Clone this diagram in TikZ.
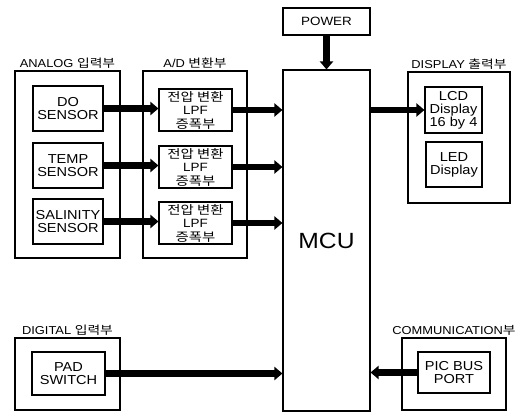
\documentclass[tikz,border=0pt]{standalone}
\usepackage{fontspec}
\setmainfont[FakeStretch=1.12]{Liberation Sans}
\newfontfamily\kr[FakeStretch=1.2]{Noto Sans CJK KR}
\usetikzlibrary{arrows.meta, positioning}

\begin{document}
\begin{tikzpicture}[x=1pt, y=-1pt,
    grp/.style={draw, line width=1.1pt, inner sep=0pt},
    blk/.style={draw, line width=1.1pt, align=center, inner sep=0pt,
                font=\fontsize{13}{13}\selectfont},
    ttl/.style={font=\fontsize{11.5}{12}\selectfont, inner sep=1pt},
    bus/.style={line width=6.5pt, -{Triangle[length=8pt, width=13pt]}}]
    \useasboundingbox[fill=white] (0,0) rectangle (528,414);

    \node[grp, minimum width=105pt, minimum height=187pt] (analog) at (67.5,164.5) {};
    \node[ttl, above=1pt of analog] (analogt) {ANALOG {\kr 입력부}};
    \node[blk, minimum width=70pt, minimum height=45pt] (do) at (68,108.5) {DO\\SENSOR};
    \node[blk, minimum width=70pt, minimum height=45pt] (temp) at (68,165.5) {TEMP\\SENSOR};
    \node[blk, minimum width=70pt, minimum height=45pt] (sal) at (68,221.5) {SALINITY\\SENSOR};

    \node[grp, minimum width=104pt, minimum height=187pt] (ad) at (195,164.5) {};
    \node[ttl, above=1pt of ad] (adt) {A/D {\kr 변환부}};
    \node[blk, minimum width=73pt, minimum height=42pt, font=\fontsize{12}{13.5}\selectfont] (ad1) at (195.5,110) {{\kr 전압 변환}\\LPF\\{\kr 증폭부}};
    \node[blk, minimum width=73pt, minimum height=42pt, font=\fontsize{12}{13.5}\selectfont] (ad2) at (195.5,167) {{\kr 전압 변환}\\LPF\\{\kr 증폭부}};
    \node[blk, minimum width=73pt, minimum height=42pt, font=\fontsize{12}{13.5}\selectfont] (ad3) at (195.5,223) {{\kr 전압 변환}\\LPF\\{\kr 증폭부}};

    \node[blk, minimum width=87pt, minimum height=341pt, font=\fontsize{22}{22}\selectfont] (mcu) at (326.5,240.5) {MCU};
    \node[blk, minimum width=87pt, minimum height=27pt, font=\fontsize{12}{12}\selectfont] (power) at (326.5,21.5) {POWER};

    \node[grp, minimum width=102pt, minimum height=131pt] (disp) at (459,137.5) {};
    \node[ttl, above=1pt of disp] (dispt) {DISPLAY {\kr 출력부}};
    \node[blk, minimum width=57pt, minimum height=46pt] (lcd) at (453.5,110) {LCD\\Display\\16 by 4};
    \node[blk, minimum width=56pt, minimum height=45pt] (led) at (454,164.5) {LED\\Display};

    \node[grp, minimum width=105pt, minimum height=72pt] (dig) at (67.5,374) {};
    \node[ttl, above=1pt of dig] (digt) {DIGITAL {\kr 입력부}};
    \node[blk, minimum width=73pt, minimum height=43pt] (pad) at (68.5,373.5) {PAD\\SWITCH};

    \node[grp, minimum width=104pt, minimum height=72pt] (comm) at (454,374) {};
    \node[ttl, above=1pt of comm] (commt) {COMMUNICATION{\kr 부}};
    \node[blk, minimum width=72pt, minimum height=41pt] (pic) at (454,372.5) {PIC BUS\\PORT};

    \draw[bus] (do.east) -- (do.east -| ad1.west);
    \draw[bus] (temp.east) -- (temp.east -| ad2.west);
    \draw[bus] (sal.east) -- (sal.east -| ad3.west);
    \draw[bus] (ad1.east) -- (ad1.east -| mcu.west);
    \draw[bus] (ad2.east) -- (ad2.east -| mcu.west);
    \draw[bus] (ad3.east) -- (ad3.east -| mcu.west);
    \draw[bus] (power.south) -- (mcu.north);
    \draw[bus] (lcd.west -| mcu.east) -- (lcd.west);
    \draw[bus] (pad.east) -- (pad.east -| mcu.west);
    \draw[bus] (pic.west) -- (pic.west -| mcu.east);
\end{tikzpicture}
\end{document}
